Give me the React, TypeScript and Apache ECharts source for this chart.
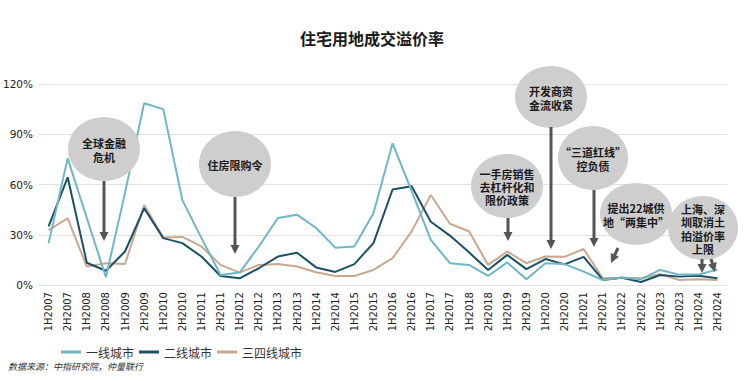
import React, { useEffect, useRef } from "react";
import * as echarts from "echarts";

const categories = [
  "1H2007","2H2007","1H2008","2H2008","1H2009","2H2009","1H2010","2H2010","1H2011","2H2011",
  "1H2012","2H2012","1H2013","2H2013","1H2014","2H2014","1H2015","2H2015","1H2016","2H2016",
  "1H2017","2H2017","1H2018","2H2018","1H2019","2H2019","1H2020","2H2020","1H2021","2H2021",
  "1H2022","2H2022","1H2023","2H2023","1H2024","2H2024",
];

const tier1 = [25, 75.6, 40, 4.6, 55, 108.5, 105, 50.7, 28, 6, 7.4, 23, 40, 42, 34, 22.3, 23, 42.8, 84.6, 56, 27, 13, 12, 5.4, 13.5, 3.4, 13, 12.5, 8, 3, 4.5, 3.5, 9, 6.2, 6.2, 9.3];
const tier2 = [35, 64.3, 13.3, 8.5, 20, 45.8, 28, 25, 17, 5.4, 4, 10, 17, 19.3, 10.5, 7.8, 12.5, 25, 57, 59, 37.8, 29.5, 19.5, 9, 18, 9.5, 15.5, 12.3, 16.8, 3, 4.3, 1.8, 6, 5, 5.5, 4];
const tier3 = [32.8, 39.8, 11, 13, 12.5, 47.8, 28.3, 28.7, 23, 12, 7.4, 12, 12.5, 11, 7.6, 5.4, 5.4, 9, 16, 32, 53.7, 36.6, 32.1, 12, 20, 13, 17, 16.8, 21.5, 4, 4.4, 4, 6.4, 3, 3.4, 3];

const seriesNames = ["一线城市", "二线城市", "三四线城市"];
const seriesColors = ["#6fb6c7", "#1a5164", "#c9a890"];
const yTicks = [0, 30, 60, 90, 120];

const title = "住宅用地成交溢价率";
const source = "数据来源：中指研究院，仲量联行";

// annotation bubbles: [lines, cx, cy, rx, ry, arrows[[x1,y1,x2,y2]]]
const notes: [string[], number, number, number, number, number[][]][] = [
  [["全球金融", "危机"], 104, 149, 36, 32, [[104, 181, 104, 241]]],
  [["住房限购令"], 235, 164, 36, 33, [[235, 197, 235, 254]]],
  [["一手房销售", "去杠杆化和", "限价政策"], 507, 186, 36, 32, [[508, 218, 508, 241]]],
  [["开发商资", "金流收紧"], 551, 97, 36, 31, [[551, 127, 551, 249]]],
  [["“三道红线”", "控负债"], 593, 158, 35, 32, [[594, 190, 594, 247]]],
  [["提出22城供", "地“两集中”"], 636, 214, 36, 31, [[618, 248, 611, 263]]],
  [["上海、深", "圳取消土", "拍溢价率", "上限"], 703, 228, 35, 32, [[702, 259, 702, 273], [711, 259, 715, 272]]],
];

const CJK = '"Noto Sans CJK SC", "Noto Sans", sans-serif';

function arrow(x1: number, y1: number, x2: number, y2: number) {
  const dx = x2 - x1, dy = y2 - y1;
  const len = Math.sqrt(dx * dx + dy * dy);
  const ux = dx / len, uy = dy / len;
  const head = 9, hw = 4.5;
  const bx = x2 - ux * head, by = y2 - uy * head;
  const px = -uy, py = ux;
  return [
    { type: "line", z: 20, shape: { x1, y1, x2: bx + ux, y2: by + uy }, style: { stroke: "#555555", lineWidth: 3 } },
    { type: "polygon", z: 20, shape: { points: [[x2, y2], [bx + px * hw, by + py * hw], [bx - px * hw, by - py * hw]] }, style: { fill: "#555555" } },
  ];
}

export default function App() {
  const ref = useRef<HTMLDivElement>(null);
  useEffect(() => {
    if (!ref.current) return;
    const chart = echarts.init(ref.current, undefined, { renderer: "svg" });
    const graphics: any[] = [];
    const lh = 13.4;
    notes.forEach(([lines, cx, cy, rx, ry, arrows]) => {
      graphics.push({ type: "ellipse", z: 18, shape: { cx, cy, rx, ry }, style: { fill: "#cecece" } });
      const y0 = cy + 1 - ((lines.length - 1) * lh) / 2;
      lines.forEach((t, k) => {
        graphics.push({
          type: "text", z: 19, x: cx, y: y0 + k * lh,
          style: {
            text: t, fill: "#1a1a1a", fontSize: 11, fontWeight: "bold", fontFamily: CJK,
            align: "center", verticalAlign: "middle",
          },
        });
      });
      arrows.forEach((a) => graphics.push(...arrow(a[0], a[1], a[2], a[3])));
    });
    graphics.push({
      type: "text", left: 8, top: 362,
      style: { text: source, fill: "#333333", fontSize: 9, fontStyle: "italic", fontFamily: CJK },
    });

    const datasets = [tier1, tier2, tier3];
    chart.setOption({
      animation: false,
      title: {
        text: title, left: "center", top: 25,
        textStyle: { fontSize: 16, fontWeight: "bold", color: "#1a1a1a", fontFamily: CJK },
      },
      grid: { left: 37, right: 17, top: 84, bottom: 96 },
      legend: {
        data: seriesNames, left: 56, top: 341, icon: "rect", itemWidth: 20, itemHeight: 3, itemGap: 5,
        textStyle: { fontSize: 12, color: "#333333", fontFamily: CJK },
      },
      xAxis: {
        type: "category", data: categories, boundaryGap: true,
        axisTick: { show: false },
        axisLine: { lineStyle: { color: "#e2e2e2" } },
        axisLabel: { rotate: 90, interval: 0, fontSize: 10, color: "#222222", fontFamily: "DejaVu Sans", margin: 7 },
      },
      yAxis: {
        type: "value", min: yTicks[0], max: yTicks[yTicks.length - 1], interval: 30,
        axisLabel: { formatter: "{value}%", fontSize: 10.5, color: "#222222", fontFamily: "DejaVu Sans", margin: 6 },
        splitLine: { lineStyle: { color: "#e2e2e2", width: 1 } },
        axisLine: { show: false }, axisTick: { show: false },
      },
      series: seriesNames.map((name, i) => ({
        name, type: "line", data: datasets[i], symbol: "none",
        lineStyle: { width: 2, color: seriesColors[i] }, itemStyle: { color: seriesColors[i] },
        z: 3 - i,
      })),
      graphic: graphics,
    });
    return () => chart.dispose();
  }, []);
  return <div ref={ref} style={{ position: "fixed", left: 0, top: 0, width: 744, height: 381, background: "#ffffff" }} />;
}
